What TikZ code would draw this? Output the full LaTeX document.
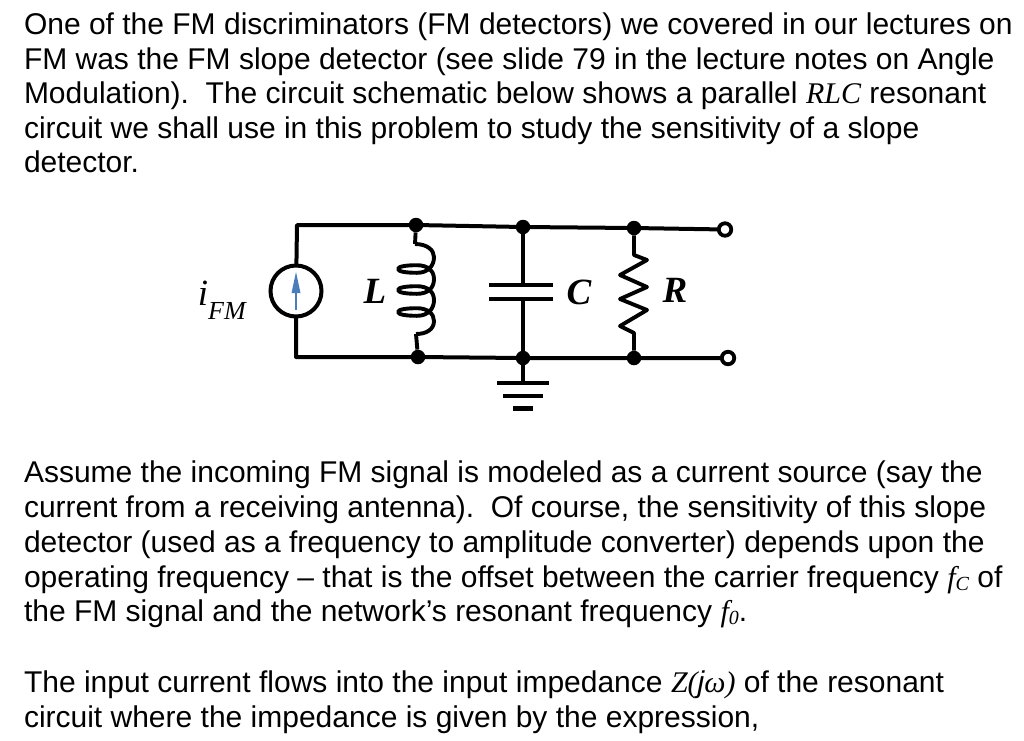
\documentclass[tikz,border=0pt]{standalone}
\usepackage{fontspec}
\setmainfont{Liberation Sans}
\newfontfamily\serfam{Liberation Serif}
\newcommand{\mi}[1]{{\serfam\itshape #1}}
\newcommand{\msub}[2]{{\serfam\itshape #1\raisebox{-3pt}{\fontsize{20}{20}\selectfont #2}}}
\definecolor{arrowblue}{HTML}{4A7EBB}
\tikzset{
  txt/.style={anchor=base west,inner sep=0pt,outer sep=0pt,font=\fontsize{30}{35}\selectfont,text=black},
  wire/.style={line width=4pt,line cap=round,line join=round,black},
  part/.style={line width=3.9pt,line join=round,black},
  plate/.style={line width=4.2pt,black},
  dot/.style={circle,fill=black,inner sep=0pt,minimum size=14.5pt},
  term/.style={circle,draw=black,fill=white,line width=3.8pt,inner sep=0pt,minimum size=12.5pt},
  src/.style={circle,draw=black,line width=4pt,fill=white,inner sep=0pt,minimum size=51pt},
  lab/.style={inner sep=0pt,font=\fontsize{37}{37}\selectfont\serfam\bfseries\itshape},
  sublab/.style={inner sep=0pt,font=\fontsize{26}{26}\selectfont\serfam\itshape}
}
\begin{document}
\begin{tikzpicture}[x=1pt,y=-1pt]
\useasboundingbox (0,0) rectangle (1024,740);
\node[txt] (t1) at (24,34.6) {One of the FM discriminators (FM detectors) we covered in our lectures on};
\node[txt] (t2) at (24,69.3) {FM was the FM slope detector (see slide 79 in the lecture notes on Angle};
\node[txt] (t3) at (24,103.6) {Modulation).\ \ The circuit schematic below shows a parallel \mi{RLC} resonant};
\node[txt] (t4) at (24,138.3) {circuit we shall use in this problem to study the sensitivity of a slope};
\node[txt] (t5) at (24,172.6) {detector.};
\node[txt] (t6) at (24,482.6) {Assume the incoming FM signal is modeled as a current source (say the};
\node[txt] (t7) at (24,517.6) {current from a receiving antenna).\ \ Of course, the sensitivity of this slope};
\node[txt] (t8) at (24,552.4) {detector (used as a frequency to amplitude converter) depends upon the};
\node[txt] (t9) at (24,587.2) {operating frequency -- that is the offset between the carrier frequency \msub{f}{C} of};
\node[txt] (t10) at (24,621.6) {the FM signal and the network’s resonant frequency \msub{f}{0}.};
\node[txt] (t11) at (24,692.6) {The input current flows into the input impedance \mi{Z(}{\itshape j}\mi{ω)} of the resonant};
\node[txt] (t12) at (24,727.4) {circuit where the impedance is given by the expression,};
% junctions
\coordinate (tl) at (297,225);
\coordinate (bl) at (296,357);
\node[dot] (jL1) at (416,225) {};
\node[dot] (jL2) at (418,357) {};
\node[dot] (jC1) at (523,227) {};
\node[dot] (jC2) at (523,358) {};
\node[dot] (jR1) at (634,228) {};
\node[dot] (jR2) at (634,358) {};
\node[term] (T1) at (725,229.5) {};
\node[term] (T2) at (728,358) {};
\node[src] (S) at (296,291) {};
% wires
\draw[wire] (S) -- (tl) -- (jL1) -- (jC1) -- (jR1) -- (T1);
\draw[wire] (S) -- (bl) -- (jL2) -- (jC2) -- (jR2) -- (T2);
% source arrow
\coordinate (a0) at (296,310);
\coordinate (a1) at (296,272);
\draw[arrowblue,line width=2.2pt] (a0) -- (296,288);
\fill[arrowblue] (a1) -- (300.5,293) -- (291.5,293) -- cycle;
% inductor
\coordinate (L1) at (415,244);
\coordinate (L2) at (416,334);
\draw[part] (jL1) -- (L1);
\draw[part] (jL2) -- (L2);
\draw[part] (L1) .. controls (427,244) and (434,250) .. (434,257)
  .. controls (434,266) and (428,272.8) .. (417,272.8)
  .. controls (406,272.8) and (398,271.5) .. (398,269)
  .. controls (398,266.5) and (406,265.2) .. (417,265.2)
  .. controls (428,265.2) and (434,271) .. (434,279)
  .. controls (434,288) and (428,293.8) .. (417,293.8)
  .. controls (406,293.8) and (398,292.5) .. (398,290)
  .. controls (398,287.5) and (406,286.2) .. (417,286.2)
  .. controls (428,286.2) and (434,292) .. (434,300)
  .. controls (434,309) and (428,315.8) .. (417,315.8)
  .. controls (406,315.8) and (398,314.5) .. (398,312)
  .. controls (398,309.5) and (406,308.2) .. (417,308.2)
  .. controls (428,308.2) and (434,314) .. (434,321)
  .. controls (434,329) and (427,334) .. (L2);
% capacitor
\coordinate (C1) at (523,285);
\coordinate (C2) at (523,299);
\draw[part] (jC1) -- (C1);
\draw[part] (jC2) -- (C2);
\draw[plate] (489,285) -- (553,285);
\draw[plate] (489,299) -- (553,299);
% resistor
\coordinate (R1) at (634,255);
\coordinate (R2) at (634,333);
\draw[part] (jR1) -- (R1) -- (647,260) -- (620,275) -- (647,287) -- (620,299) -- (647,310) -- (620,326) -- (R2) -- (jR2);
% ground
\coordinate (G) at (523,383);
\draw[part] (jC2) -- (G);
\draw[plate] (497,383) -- (549,383);
\draw[plate] (503,396) -- (543,396);
\draw[plate] (513,408.5) -- (533,408.5);
% labels
\node[lab] (lL) at (375,291) {L};
\node[lab] (lC) at (579,292) {C};
\node[lab] (lR) at (675,290) {R};
\node[font=\fontsize{37}{37}\selectfont\serfam\itshape,inner sep=0pt] (li) at (203,293) {i};
\node[sublab] (lF) at (227,311) {FM};
\end{tikzpicture}
\end{document}
